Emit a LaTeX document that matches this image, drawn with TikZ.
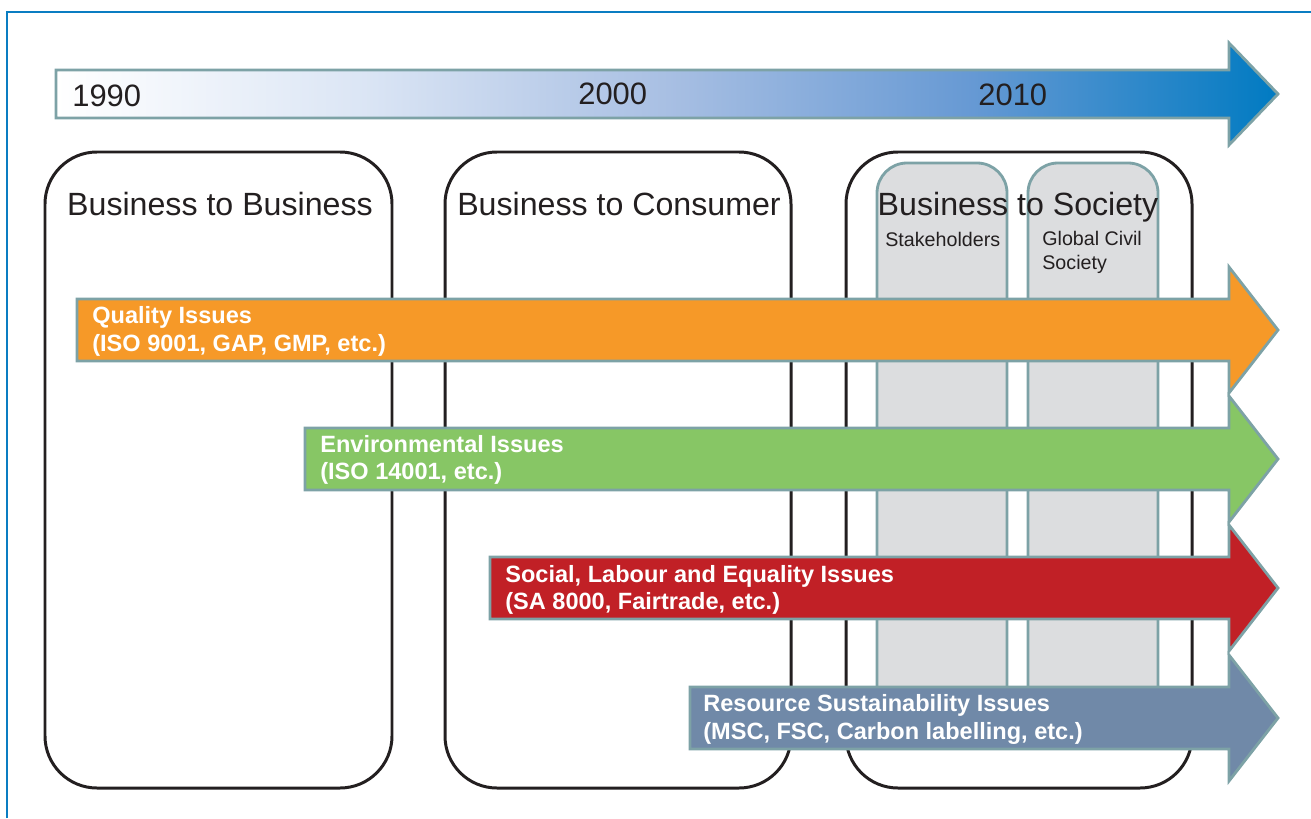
\documentclass[tikz,border=0pt]{standalone}
\usepackage{fontspec}
\setmainfont{Liberation Sans}
\definecolor{framebl}{RGB}{10,125,194}
\definecolor{rimgrey}{RGB}{125,162,166}
\definecolor{boxblack}{RGB}{35,31,32}
\definecolor{panelgrey}{RGB}{220,221,223}
\definecolor{qualorange}{RGB}{246,153,40}
\definecolor{envgreen}{RGB}{135,198,101}
\definecolor{socred}{RGB}{193,32,38}
\definecolor{resblue}{RGB}{112,137,168}
\definecolor{inktext}{RGB}{35,31,32}
% white-to-blue fill of the timeline (path box maps to 25bp..75bp)
\pgfdeclarehorizontalshading{timefade}{100bp}{
  rgb(0bp)=(1,1,1);
  rgb(25bp)=(1,1,1);
  rgb(37.5bp)=(0.86,0.90,0.96);
  rgb(50bp)=(0.66,0.75,0.89);
  rgb(62.5bp)=(0.40,0.60,0.83);
  rgb(75bp)=(0,0.48,0.76);
  rgb(100bp)=(0,0.48,0.76)}
% draws one horizontal band arrow: left x, centre y, fill colour
\newcommand\bandarrow[3]{%
  \path[band,fill=#3] (#1,{#2-31}) -- (1229,{#2-31}) -- (1229,{#2-63})
    -- (1278,#2) -- (1229,{#2+63}) -- (1229,{#2+31}) -- (#1,{#2+31}) -- cycle;}
\begin{document}
\begin{tikzpicture}[x=0.02cm,y=-0.02cm,
  band/.style={draw=rimgrey,line width=1.6pt,line join=miter},
  era/.style={draw=boxblack,line width=1.7pt,rounded corners=1.04cm},
  panel/.style={draw=rimgrey,fill=panelgrey,line width=1.6pt,rounded corners=0.6cm},
  yearlbl/.style={inner sep=0,anchor=base west,text=inktext,font=\fontsize{17.6}{21}\selectfont},
  eralbl/.style={inner sep=0,anchor=base,text=inktext,font=\fontsize{18.3}{22}\selectfont},
  grouplbl/.style={inner sep=0,anchor=base west,text=inktext,align=left,font=\fontsize{11.2}{13.6}\selectfont},
  bandlbl/.style={inner sep=0,anchor=base west,text=white,font=\bfseries\fontsize{13.4}{15.3}\selectfont}]
\useasboundingbox (0,0) rectangle (1311,818);

% page frame
\draw[framebl,line width=1.1pt] (7,818) -- (7,12) -- (1311,12);

% timeline arrow
\path[band,shading=timefade]
  (56,70) -- (1229,70) -- (1229,43) -- (1278,94) -- (1229,145) -- (1229,118) -- (56,118) -- cycle;
\node[yearlbl] (y1990) at (72,106) {1990};
\node[yearlbl] (y2000) at (578,104) {2000};
\node[yearlbl] (y2010) at (978,105) {2010};

% three eras
\draw[era] (45,152) rectangle (392,788);
\draw[era] (445,152) rectangle (791,788);
\draw[era] (846,152) rectangle (1192,788);

% groups inside the society era
\draw[panel] (877,740) -- (877,163) -- (1007,163) -- (1007,740);
\draw[panel] (1028,740) -- (1028,163) -- (1158,163) -- (1158,740);

\node[eralbl] (b2b) at (220,215) {Business to Business};
\node[eralbl] (b2c) at (619,215) {Business to Consumer};
\node[eralbl] (b2s) at (1018,215) {Business to Society};
\node[grouplbl] (stake) at (885,246) {Stakeholders};
\node[grouplbl,anchor=north west] (civil) at (1042,231) {Global Civil\\Society};

% issue bands
\bandarrow{77}{330}{qualorange}
\node[bandlbl] (q1) at (92,323) {Quality Issues};
\node[bandlbl] (q2) at (92,351) {(ISO 9001, GAP, GMP, etc.)};

\bandarrow{305}{459}{envgreen}
\node[bandlbl] (e1) at (320,452) {Environmental Issues};
\node[bandlbl] (e2) at (320,479) {(ISO 14001, etc.)};

\bandarrow{490}{588}{socred}
\node[bandlbl] (s1) at (505,582) {Social, Labour and Equality Issues};
\node[bandlbl] (s2) at (505,609) {(SA 8000, Fairtrade, etc.)};

\bandarrow{690}{718}{resblue}
\node[bandlbl] (r1) at (703,711) {Resource Sustainability Issues};
\node[bandlbl] (r2) at (703,739) {(MSC, FSC, Carbon labelling, etc.)};
\end{tikzpicture}
\end{document}
